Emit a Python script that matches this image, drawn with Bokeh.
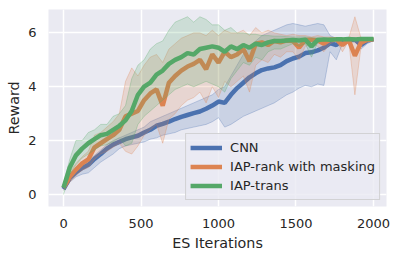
from bokeh.plotting import figure
from bokeh.models import FixedTicker, Range1d, Legend, LegendItem
from bokeh.embed import file_html
from bokeh.resources import INLINE

iters = list(range(0, 2001, 40))

cnn_mean = [0.2, 0.6, 0.82, 0.98, 1.1, 1.32, 1.5, 1.7, 1.85, 1.95, 2.05, 2.12, 2.18, 2.3, 2.4, 2.55, 2.62, 2.7, 2.8, 2.88,
            2.95, 3.02, 3.08, 3.18, 3.3, 3.45, 3.4, 3.7, 3.95, 4.15, 4.35, 4.5, 4.62, 4.68, 4.72, 4.8, 4.95, 5.05, 5.12, 5.25,
            5.28, 5.35, 5.45, 5.62, 5.55, 5.72, 5.74, 5.75, 5.55, 5.72, 5.76]
cnn_lo = [0.15, 0.45, 0.65, 0.75, 0.8, 1.0, 1.2, 1.35, 1.5, 1.7, 1.8, 1.85, 1.9, 1.95, 2.05, 2.1, 2.2, 2.25, 2.3, 2.4,
          2.45, 2.5, 2.55, 2.6, 2.7, 2.85, 2.5, 2.6, 2.75, 2.9, 3.0, 3.1, 3.2, 3.3, 3.4, 3.55, 3.7, 3.8, 3.95, 4.05,
          4.0, 4.1, 4.05, 5.3, 5.0, 5.6, 5.7, 5.7, 5.4, 5.6, 5.72]
cnn_hi = [0.3, 0.75, 0.95, 1.1, 1.25, 1.45, 1.65, 1.85, 2.0, 2.1, 2.2, 2.3, 2.4, 2.5, 2.7, 2.8, 2.9, 3.0, 3.1, 3.2,
          3.3, 3.4, 3.5, 3.6, 3.7, 3.9, 4.0, 4.4, 4.8, 5.2, 5.5, 5.7, 5.9, 6.0, 6.1, 6.2, 6.3, 6.35, 6.3, 6.25,
          6.3, 6.35, 6.3, 5.9, 5.8, 5.8, 5.8, 5.8, 5.75, 5.8, 5.8]

rank_mean = [0.25, 0.65, 0.92, 1.15, 1.3, 1.75, 1.9, 2.05, 2.2, 2.4, 2.9, 3.0, 3.1, 3.5, 3.75, 3.9, 3.3, 4.15, 4.4, 4.6,
             4.75, 4.85, 5.0, 4.65, 5.2, 4.9, 5.3, 5.1, 5.2, 5.4, 4.95, 5.6, 5.65, 5.55, 5.7, 5.65, 5.72, 5.7, 5.45, 5.74,
             5.75, 5.72, 5.6, 5.75, 5.76, 5.55, 5.74, 5.15, 5.65, 5.74, 5.76]
rank_lo = [0.15, 0.45, 0.7, 0.9, 1.0, 1.3, 1.5, 1.6, 1.75, 1.9, 1.6, 1.5, 1.8, 2.2, 2.4, 2.6, 1.9, 2.8, 3.0, 3.3,
           3.5, 3.6, 3.8, 3.4, 4.0, 3.6, 4.2, 4.0, 4.2, 4.4, 3.8, 4.8, 5.0, 4.9, 5.2, 5.1, 5.3, 5.3, 5.0, 5.5,
           5.6, 5.5, 5.3, 5.6, 5.7, 5.3, 5.7, 3.7, 5.5, 5.7, 5.72]
rank_hi = [0.35, 0.85, 1.15, 1.4, 1.6, 2.2, 2.3, 2.5, 2.7, 3.0, 4.2, 4.7, 4.4, 4.8, 5.1, 5.2, 4.9, 5.4, 5.6, 5.8,
           5.9, 6.0, 6.0, 5.9, 6.1, 5.9, 6.1, 6.0, 6.0, 6.1, 5.9, 6.2, 6.0, 6.1, 6.0, 5.95, 5.9, 5.95, 5.9, 5.9,
           5.85, 5.9, 5.85, 5.85, 5.8, 5.8, 5.8, 6.6, 5.8, 5.8, 5.8]

trans_mean = [0.25, 1.0, 1.45, 1.7, 1.9, 2.05, 2.2, 2.25, 2.4, 2.55, 2.75, 3.1, 3.7, 4.0, 4.15, 4.45, 4.6, 4.85, 5.0, 5.1,
              5.25, 5.2, 5.4, 5.45, 5.5, 5.45, 5.3, 5.5, 5.4, 5.55, 5.45, 5.6, 5.55, 5.65, 5.7, 5.7, 5.72, 5.74, 5.72, 5.75,
              5.5, 5.74, 5.76, 5.75, 5.76, 5.76, 5.77, 5.76, 5.77, 5.77, 5.77]
trans_lo = [0.0, 0.75, 1.1, 1.35, 1.5, 1.65, 1.8, 1.85, 1.95, 2.1, 1.8, 1.9, 2.6, 2.9, 3.1, 3.3, 3.5, 3.7, 3.9, 4.0,
            4.1, 4.0, 4.1, 4.2, 4.1, 4.0, 3.8, 4.3, 4.6, 4.9, 4.8, 5.1, 5.0, 5.3, 5.4, 5.4, 5.5, 5.6, 5.5, 5.6,
            5.1, 5.65, 5.7, 5.7, 5.72, 5.72, 5.74, 5.72, 5.74, 5.74, 5.74]
trans_hi = [0.4, 1.3, 2.0, 2.0, 2.3, 2.4, 2.6, 2.6, 2.9, 3.0, 3.3, 4.3, 4.8, 5.0, 5.4, 5.6, 5.7, 6.1, 6.4, 6.5,
            6.6, 6.4, 6.6, 6.5, 6.3, 6.3, 6.1, 6.2, 6.0, 6.0, 5.95, 5.95, 5.9, 5.9, 5.88, 5.88, 5.86, 5.85, 5.85, 5.85,
            5.82, 5.82, 5.8, 5.8, 5.8, 5.8, 5.8, 5.8, 5.8, 5.8, 5.8]

labels = ["CNN", "IAP-rank with masking", "IAP-trans"]
colors = ["#4C72B0", "#DD8452", "#55A868"]
x_ticks = [0, 500, 1000, 1500, 2000]
y_ticks = [0, 2, 4, 6]

FONT = "DejaVu Sans"
TXT = "#262626"

p = figure(width=395, height=255, output_backend="svg", toolbar_location=None,
           x_range=Range1d(-97, 2084), y_range=Range1d(-0.45, 6.87),
           min_border_left=48, min_border_right=9, min_border_top=9, min_border_bottom=49)
p.background_fill_color = "#EAEAF2"
p.border_fill_color = "white"
p.outline_line_color = None

for ax in (p.xaxis[0], p.yaxis[0]):
    ax.axis_line_color = None
    ax.major_tick_line_color = None
    ax.minor_tick_line_color = None
    ax.major_tick_out = 0
    ax.minor_tick_out = 0
    ax.major_label_text_font = FONT
    ax.major_label_text_font_size = "13px"
    ax.major_label_text_color = TXT
    ax.axis_label_text_font = FONT
    ax.axis_label_text_font_size = "14.3px"
    ax.axis_label_text_font_style = "normal"
    ax.axis_label_text_color = TXT

p.xaxis.ticker = FixedTicker(ticks=x_ticks)
p.yaxis.ticker = FixedTicker(ticks=y_ticks)
p.xaxis.axis_label = "ES Iterations"
p.yaxis.axis_label = "Reward"
p.xaxis.major_label_standoff = 12
p.yaxis.major_label_standoff = 12
p.xaxis.axis_label_standoff = 4
p.yaxis.axis_label_standoff = 3

p.grid.grid_line_color = "white"
p.grid.grid_line_width = 1.5
p.xgrid.ticker = FixedTicker(ticks=x_ticks)
p.ygrid.ticker = FixedTicker(ticks=y_ticks)

series = [(cnn_mean, cnn_lo, cnn_hi), (rank_mean, rank_lo, rank_hi), (trans_mean, trans_lo, trans_hi)]
items = []
for (m, lo, hi), c, lab in zip(series, colors, labels):
    r = p.line(iters, m, line_color=c, line_width=4.5)
    p.varea(x=iters, y1=lo, y2=hi, fill_color=c, fill_alpha=0.2)
    p.line(iters, lo, line_color=c, line_width=1, line_alpha=0.3)
    p.line(iters, hi, line_color=c, line_width=1, line_alpha=0.3)
    items.append(LegendItem(label=lab, renderers=[r]))

leg = Legend(items=items, location="bottom_right")
leg.margin = 6
leg.padding = 4
leg.spacing = 0
leg.glyph_width = 32
leg.glyph_height = 19
leg.label_height = 19
leg.label_standoff = 8
leg.label_text_font = FONT
leg.label_text_font_size = "13px"
leg.label_text_color = TXT
leg.background_fill_color = "#EAEAF2"
leg.background_fill_alpha = 0.8
leg.border_line_color = "#CCCCCC"
leg.border_line_alpha = 0.8
p.add_layout(leg)

open("out.html", "w").write(file_html(p, INLINE))
